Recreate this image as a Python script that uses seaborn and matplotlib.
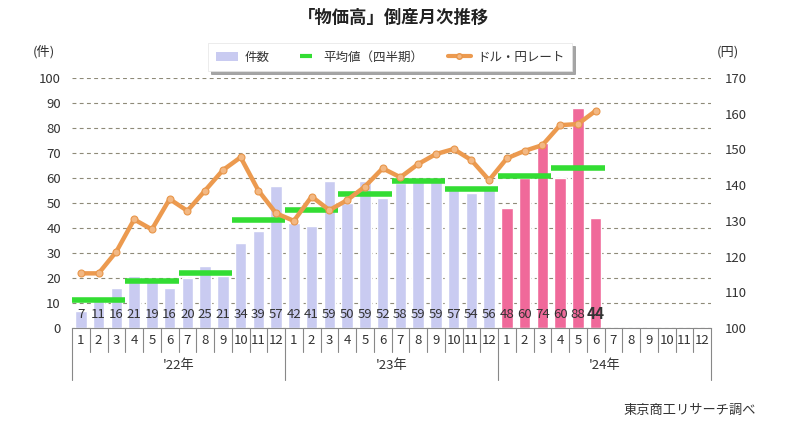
import numpy as np
import pandas as pd
import matplotlib
matplotlib.use("Agg")
import matplotlib.pyplot as plt
import matplotlib.transforms as mtransforms
from matplotlib.lines import Line2D
from matplotlib.patches import Patch
import seaborn as sns

sns.set_style("white")
plt.rcParams['font.family'] = ['Noto Sans CJK JP', 'DejaVu Sans']

# データ（2022年1月〜2024年6月）
years = ["'22年", "'23年", "'24年"]
months = list(range(1, 13))
counts = [7, 11, 16, 21, 19, 16, 20, 25, 21, 34, 39, 57,
          42, 41, 59, 50, 59, 52, 58, 59, 59, 57, 54, 56,
          48, 60, 74, 60, 88, 44]
periods = ['22'] * 12 + ['23'] * 12 + ['24'] * 6
quarter_avg = [11.3, 18.7, 22.0, 43.3, 47.3, 53.7, 58.7, 55.7, 60.7, 64.0]
usd_jpy = [115.3, 115.3, 121.4, 130.4, 127.6, 136.1, 132.8, 138.5, 144.2, 147.8, 138.5, 132.1,
           130.0, 136.8, 133.0, 135.8, 139.6, 144.7, 142.2, 145.9, 148.7, 150.1, 147.0, 141.4,
           147.5, 149.6, 151.2, 156.8, 157.1, 160.8]

df = pd.DataFrame({'pos': np.arange(len(counts)), 'count': counts, 'period': periods})

c_bar = '#C9CBF1'
c_pink = '#F0699A'
c_green = '#33DD33'
c_orange = '#EC9A4F'
c_text = '#333333'
c_grid = '#8E8A78'

fig = plt.figure(figsize=(7.87, 4.30), dpi=100)
ax = fig.add_axes([72 / 787, 102 / 430, 639 / 787, 250 / 430])

sns.barplot(data=df, x='pos', y='count', hue='period',
            palette={'22': c_bar, '23': c_bar, '24': c_pink},
            native_scale=True, dodge=False, width=0.65, legend=False,
            saturation=1, ax=ax, zorder=2)

# 四半期平均
for i, v in enumerate(quarter_avg):
    ax.hlines(v, i * 3 - 0.5, i * 3 + 2.5, color=c_green, lw=4, zorder=4)

# 件数ラベル
for i, v in enumerate(counts):
    last = i == len(counts) - 1
    ax.text(i, 5.5, str(v), ha='center', va='center', color=c_text,
            fontsize=11 if last else 9.5, fontweight='bold' if last else 'normal', zorder=5)

ax.set_xlim(-0.5, 35.5)
ax.set_ylim(0, 100)
ax.set_yticks(range(0, 101, 10))
ax.set_xticks([])
ax.set_xlabel('')
ax.set_ylabel('')
ax.yaxis.grid(True, linestyle=(0, (3.5, 3)), color=c_grid, lw=0.8)
ax.set_axisbelow(True)
for s in ['top', 'left', 'right']:
    ax.spines[s].set_visible(False)
ax.spines['bottom'].set_color('#888888')
ax.tick_params(axis='y', length=0, labelsize=9.5, labelcolor=c_text, pad=8)

# ドル円レート
ax2 = ax.twinx()
sns.lineplot(x=df['pos'], y=usd_jpy, ax=ax2, color=c_orange, lw=3.2,
             marker='o', markersize=5, markerfacecolor='#F3B883',
             markeredgecolor='#E8964A', markeredgewidth=0.8, zorder=6)
ax2.set_ylim(100, 170)
ax2.set_yticks(range(100, 171, 10))
ax2.set_ylabel('')
for s in ax2.spines.values():
    s.set_visible(False)
ax2.tick_params(axis='y', length=0, labelsize=9.5, labelcolor=c_text, pad=10)
ax2.set_xlim(-0.5, 35.5)

# 横軸（月・年の表）
trans = mtransforms.blended_transform_factory(ax.transData, ax.transAxes)
row1, row2 = -0.096, -0.208
line_kw = dict(color='#888888', lw=0.8, clip_on=False, transform=trans)
for k in range(37):
    x = k - 0.5
    bottom = row2 if k % 12 == 0 else row1
    ax.plot([x, x], [0, bottom], **line_kw)
for k in range(36):
    ax.text(k, row1 / 2, str(months[k % 12]), transform=trans, ha='center', va='center',
            fontsize=9.5, color=c_text)
for j, y in enumerate(years):
    ax.text(j * 12 + 5.5, (row1 + row2) / 2, y, transform=trans, ha='center', va='center',
            fontsize=9.5, color=c_text)

# 単位
fig.text(44 / 787, 1 - 52 / 430, '(件)', ha='center', va='center', fontsize=9.5, color=c_text)
fig.text(728 / 787, 1 - 52 / 430, '(円)', ha='center', va='center', fontsize=9.5, color=c_text)

# タイトル
fig.text(393 / 787, 1 - 18 / 430, '「物価高」倒産月次推移', ha='center', va='center',
         fontsize=12.5, fontweight='bold', color='#222222')

# 凡例
handles = [
    Patch(facecolor=c_bar, edgecolor='none'),
    Line2D([0], [0], color=c_green, lw=0, marker='_', markersize=8, markeredgewidth=3),
    Line2D([0], [0], color=c_orange, lw=3, marker='o', markersize=4,
           markerfacecolor='#F3B883', markeredgecolor='#E8964A'),
]
labels = ['件数', '平均値（四半期）', 'ドル・円レート']
leg = fig.legend(handles, labels, loc='center', bbox_to_anchor=(390 / 787, 1 - 57 / 430),
                 ncol=3, frameon=True, shadow=True, fontsize=9, fancybox=False,
                 handlelength=1.8, handletextpad=0.5, columnspacing=2.0, borderpad=0.6)
leg.get_frame().set_edgecolor('#E4E4E4')
leg.get_frame().set_linewidth(0.5)
for t in leg.get_texts():
    t.set_color(c_text)

# 出典
fig.text(690 / 787, 1 - 410 / 430, '東京商工リサーチ調べ', ha='center', va='center',
         fontsize=9.5, color=c_text)

fig.savefig('out.png', dpi=100)
